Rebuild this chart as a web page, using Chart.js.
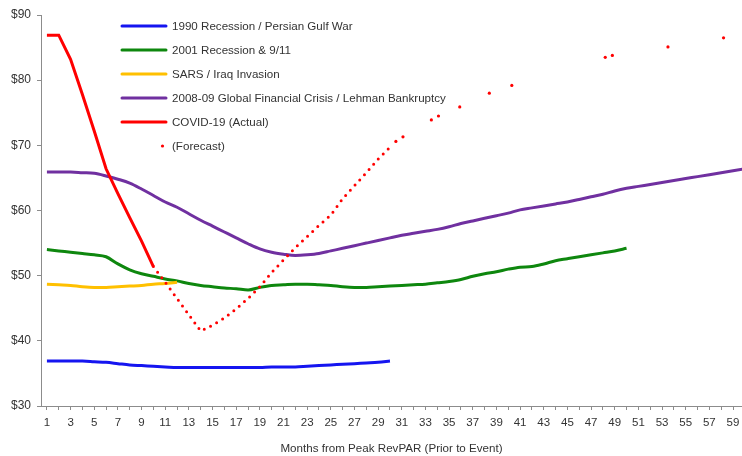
<!DOCTYPE html>
<html>
<head>
<meta charset="utf-8">
<script src="https://cdn.jsdelivr.net/npm/chart.js@4.4.1/dist/chart.umd.min.js"></script>
<style>
  html, body { margin: 0; padding: 0; background: #fff; }
  #wrap { width: 742px; height: 456px; }
</style>
</head>
<body>
<div id="wrap"><canvas id="revpar-chart" width="742" height="456"></canvas></div>
<script>
const months = [
  1, 2, 3, 4, 5, 6, 7, 8, 9, 10, 11, 12, 13, 14, 15, 16, 17, 18, 19, 20,
  21, 22, 23, 24, 25, 26, 27, 28, 29, 30, 31, 32, 33, 34, 35, 36, 37, 38, 39, 40,
  41, 42, 43, 44, 45, 46, 47, 48, 49, 50, 51, 52, 53, 54, 55, 56, 57, 58, 59, 60,
];

// RevPAR ($), starting at month 1
const gulfWar1990 = [
  36.9, 36.9, 36.9, 36.9, 36.8, 36.7, 36.5, 36.3, 36.2, 36.1,
  36.0, 35.9, 35.9, 35.9, 35.9, 35.9, 35.9, 35.9, 35.9, 36.0,
  36.0, 36.0, 36.1, 36.2, 36.3, 36.4, 36.5, 36.6, 36.7, 36.9,
];
const recession2001 = [
  54.0, 53.8, 53.6, 53.4, 53.2, 52.9, 51.8, 50.9, 50.3, 49.9,
  49.5, 49.2, 48.8, 48.5, 48.3, 48.1, 48.0, 47.8, 48.2, 48.5,
  48.6, 48.7, 48.7, 48.6, 48.5, 48.3, 48.2, 48.2, 48.3, 48.4,
  48.5, 48.6, 48.7, 48.9, 49.1, 49.4, 49.9, 50.3, 50.6, 51.0,
  51.3, 51.4, 51.8, 52.3, 52.6, 52.9, 53.2, 53.5, 53.8, 54.2,
];
const sarsIraq = [48.7, 48.6, 48.5, 48.3, 48.2, 48.2, 48.3, 48.4, 48.5, 48.7, 48.8, 49.0];
const gfc2008 = [
  65.9, 65.9, 65.9, 65.8, 65.7, 65.3, 64.8, 64.2, 63.3, 62.3,
  61.3, 60.5, 59.5, 58.5, 57.6, 56.7, 55.8, 54.9, 54.1, 53.6,
  53.3, 53.1, 53.2, 53.4, 53.8, 54.2, 54.6, 55.0, 55.4, 55.8,
  56.2, 56.5, 56.8, 57.1, 57.5, 58.0, 58.4, 58.8, 59.2, 59.6,
  60.1, 60.4, 60.7, 61.0, 61.3, 61.7, 62.1, 62.5, 63.0, 63.4,
  63.7, 64.0, 64.3, 64.6, 64.9, 65.2, 65.5, 65.8, 66.1, 66.4,
];
const covidActual = [86.9, 86.9, 83.2, 77.8, 72.2, 66.4, 62.6, 58.9, 55.3, 51.4];

// forecast starts at month 10
const forecastStart = 10;
const covidForecast = [
  51.4, 49.0, 46.5, 44.0, 41.5, 42.4, 43.5, 44.9, 46.5, 48.3,
  50.5, 52.4, 54.3, 56.0, 57.7, 59.3, 61.8, 63.8, 65.8, 67.9, 69.7,
];
// scattered forecast dots further out
const forecastTailMonths = [30.5, 31.1, 33.5, 34.1, 35.9, 38.4, 40.3, 48.2, 48.8, 53.5, 58.2];
const forecastTailValues = [70.6, 71.3, 73.9, 74.5, 75.9, 78.0, 79.2, 83.5, 83.8, 85.1, 86.5];

const yTicks = [30, 40, 50, 60, 70, 80, 90];

const FONT = "'Liberation Sans', Arial, sans-serif";
const AXIS_GRAY = "#8c8c8c";
const TEXT = "#333333";

const toPoints = (values, start = 1) =>
  values.map((v, i) => ({ x: months[start - 1 + i], y: v }));

const lineSet = (label, values, color, order, extra = {}) => ({
  label,
  data: toPoints(values),
  borderColor: color,
  backgroundColor: color,
  borderWidth: 3,
  pointRadius: 0,
  pointHoverRadius: 0,
  fill: false,
  cubicInterpolationMode: "monotone",
  order,
  ...extra,
});

const insideLegend = {
  id: "insideLegend",
  afterDatasetsDraw(chart) {
    const ctx = chart.ctx;
    ctx.save();
    ctx.font = "11.6px " + FONT;
    ctx.textBaseline = "middle";
    let row = 0;
    chart.data.datasets.forEach((ds) => {
      if (ds.hideInLegend) return;
      const y = 26 + row * 24;
      if (ds.forecast) {
        ctx.fillStyle = ds.borderColor;
        ctx.beginPath();
        ctx.arc(162.5, y, 1.6, 0, Math.PI * 2);
        ctx.fill();
      } else {
        ctx.strokeStyle = ds.borderColor;
        ctx.lineWidth = 3;
        ctx.lineCap = "round";
        ctx.beginPath();
        ctx.moveTo(122, y);
        ctx.lineTo(166, y);
        ctx.stroke();
      }
      ctx.fillStyle = TEXT;
      ctx.fillText(ds.label, 172, y + 1);
      row++;
    });
    ctx.restore();
  },
};

new Chart(document.getElementById("revpar-chart"), {
  type: "line",
  data: {
    datasets: [
      lineSet("1990 Recession / Persian Gulf War", gulfWar1990, "#1515f0", 6),
      lineSet("2001 Recession & 9/11", recession2001, "#0e870e", 5),
      lineSet("SARS / Iraq Invasion", sarsIraq, "#ffc000", 3),
      lineSet("2008-09 Global Financial Crisis / Lehman Bankruptcy", gfc2008, "#7030a0", 4),
      lineSet("COVID-19 (Actual)", covidActual, "#ff0000", 1, { cubicInterpolationMode: "default", tension: 0 }),
      {
        label: "(Forecast)",
        forecast: true,
        data: toPoints(covidForecast, forecastStart),
        borderColor: "#ff0000",
        backgroundColor: "#ff0000",
        borderWidth: 3,
        borderDash: [0, 7],
        borderCapStyle: "round",
        pointRadius: 0,
        pointHoverRadius: 0,
        tension: 0,
        order: 2,
      },
      {
        label: "(Forecast) tail",
        hideInLegend: true,
        data: forecastTailMonths.map((m, i) => ({ x: m, y: forecastTailValues[i] })),
        showLine: false,
        pointRadius: 1.6,
        pointHoverRadius: 1.6,
        pointBorderWidth: 0,
        pointBackgroundColor: "#ff0000",
        borderColor: "#ff0000",
        order: 2,
      },
    ],
  },
  options: {
    responsive: false,
    animation: false,
    devicePixelRatio: 1,
    layout: { autoPadding: false, padding: { top: 15, right: 0, left: 0, bottom: 0 } },
    plugins: {
      legend: { display: false },
      tooltip: { enabled: false },
    },
    scales: {
      x: {
        type: "linear",
        min: 0.5,
        max: 59.76,
        afterBuildTicks: (scale) => {
          scale.ticks = months.slice(0, 59).map((m) => ({ value: m }));
        },
        afterFit: (scale) => {
          scale.height = 50;
          scale.paddingLeft = 0;
          scale.paddingRight = 0;
        },
        grid: {
          drawOnChartArea: false,
          drawTicks: true,
          tickLength: 4,
          color: AXIS_GRAY,
        },
        border: { color: AXIS_GRAY, width: 1 },
        ticks: {
          autoSkip: false,
          maxRotation: 0,
          padding: 6,
          color: TEXT,
          font: { family: FONT, size: 11.5 },
          callback: (v) => (v % 2 === 1 ? String(v) : ""),
        },
        title: {
          display: true,
          text: "Months from Peak RevPAR (Prior to Event)",
          color: TEXT,
          font: { family: FONT, size: 11.6 },
          padding: { top: 10, bottom: 0 },
        },
      },
      y: {
        min: yTicks[0],
        max: yTicks[yTicks.length - 1],
        afterBuildTicks: (scale) => {
          scale.ticks = yTicks.map((v) => ({ value: v }));
        },
        afterFit: (scale) => { scale.width = 41; },
        grid: {
          drawOnChartArea: false,
          drawTicks: true,
          tickLength: 4,
          color: AXIS_GRAY,
        },
        border: { color: AXIS_GRAY, width: 1 },
        ticks: {
          padding: 6,
          color: TEXT,
          font: { family: FONT, size: 12 },
          callback: (v) => "$" + v,
        },
      },
    },
  },
  plugins: [insideLegend],
});
</script>
</body>
</html>
